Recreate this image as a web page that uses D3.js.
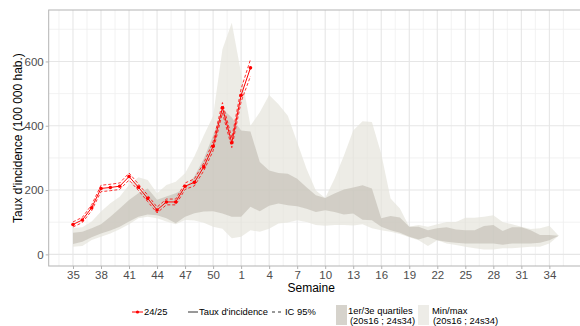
<!DOCTYPE html>
<html><head><meta charset="utf-8">
<script src="https://cdn.jsdelivr.net/npm/d3@7"></script>
<style>body{margin:0;background:#fff}svg{display:block;font-family:"Liberation Sans",Arial,sans-serif}</style>
</head><body><svg id="c" width="580" height="326"></svg>
<script>
// Weeks (season order, week 35 -> week 35)
const weeks = [35,36,37,38,39,40,41,42,43,44,45,46,47,48,49,50,51,52,1,2,3,4,5,6,7,8,9,10,11,12,13,14,15,16,17,18,19,20,21,22,23,24,25,26,27,28,29,30,31,32,33,34,35];
const tickLabels = ["35","38","41","44","47","50","1","4","7","10","13","16","19","22","25","28","31","34"];
const yTicks = [0,200,400,600];
// Historical min / max (20s16 ; 24s34)
const minVals = [24,26,45,55,65,78,94,112,117,112,102,94,107,105,98,86,80,50,55,75,70,80,96,99,106,101,91,89,91,91,90,94,81,75,70,63,53,44,26,44,34,29,24,19,15,15,19,19,21,24,24,34,58];
const maxVals = [82,84,102,133,159,179,216,240,231,190,216,226,252,305,370,430,638,720,563,400,442,496,467,431,349,266,199,175,235,307,385,414,412,313,174,143,86,91,86,94,101,101,114,114,117,122,101,94,86,79,81,89,58];
// 1st / 3rd quartiles
const q1Vals = [32,39,53,65,74,86,102,117,124,122,112,97,117,128,133,134,127,117,117,148,134,151,158,153,150,142,132,137,132,124,127,108,106,86,75,67,55,46,55,44,39,36,34,34,34,34,30,34,34,34,36,44,58];
const q3Vals = [67,70,81,94,117,143,169,190,205,170,180,190,205,243,297,370,452,426,385,382,287,261,253,251,235,209,184,175,189,202,208,215,205,112,119,115,86,86,75,81,84,77,75,75,88,91,73,84,84,75,60,60,58];
// Season 24/25
const rate2425 = [93,107,145,205,208,212,242,209,174,138,163,163,212,224,272,336,456,347,495,580];
const ciLow2425 = [85,99,136,195,198,202,231,199,164,129,154,154,202,213,260,322,440,332,475,554];
const ciHigh2425 = [101,115,154,215,218,222,253,219,184,147,172,172,222,235,284,350,472,362,515,606];

const svg = d3.select("#c");
const L = 48.7, T = 10, B = 266;
const x = d3.scaleLinear().domain([-2.6, 54.6]).range([L, 583]);
const y = d3.scaleLinear().domain([-36.2, 760]).range([B, T]);
const R = x.range()[1];

// panel grid
const g = svg.append("g");
const minorX = d3.range(-1.5, 54.6, 3);
const majorX = d3.range(0, 52, 3);
g.selectAll(".mnx").data(minorX).join("line").attr("x1",d=>x(d)).attr("x2",d=>x(d)).attr("y1",T).attr("y2",B).attr("stroke","#efefef").attr("stroke-width",0.8);
g.selectAll(".mny").data([100,300,500,700]).join("line").attr("x1",L).attr("x2",R).attr("y1",d=>y(d)).attr("y2",d=>y(d)).attr("stroke","#efefef").attr("stroke-width",0.8);
g.selectAll(".mjx").data(majorX).join("line").attr("x1",d=>x(d)).attr("x2",d=>x(d)).attr("y1",T).attr("y2",B).attr("stroke","#e6e6e6").attr("stroke-width",1.1);
g.selectAll(".mjy").data(yTicks).join("line").attr("x1",L).attr("x2",R).attr("y1",d=>y(d)).attr("y2",d=>y(d)).attr("stroke","#e6e6e6").attr("stroke-width",1.1);

// bands
const idx = d3.range(weeks.length);
const areaMM = d3.area().x(i=>x(i)).y0(i=>y(minVals[i])).y1(i=>y(maxVals[i]));
const areaQ = d3.area().x(i=>x(i)).y0(i=>y(q1Vals[i])).y1(i=>y(q3Vals[i]));
svg.append("path").datum(idx).attr("d",areaMM).attr("fill","#e6e4dc").attr("fill-opacity",0.7);
svg.append("path").datum(idx).attr("d",areaQ).attr("fill","#bfbab0").attr("fill-opacity",0.6);

// 24/25 series
const idx2 = d3.range(rate2425.length);
const ln = arr => d3.line().x(i=>x(i)).y(i=>y(arr[i]))(idx2);
svg.append("path").attr("d",ln(ciLow2425)).attr("fill","none").attr("stroke","#ff0000").attr("stroke-width",0.8).attr("stroke-dasharray","3,2");
svg.append("path").attr("d",ln(ciHigh2425)).attr("fill","none").attr("stroke","#ff0000").attr("stroke-width",0.8).attr("stroke-dasharray","3,2");
svg.append("path").attr("d",ln(rate2425)).attr("fill","none").attr("stroke","#ff0000").attr("stroke-width",1);
svg.selectAll(".pt").data(idx2).join("circle").attr("cx",i=>x(i)).attr("cy",i=>y(rate2425[i])).attr("r",1.8).attr("fill","#ff0000");

// panel border
svg.append("rect").attr("x",L).attr("y",T).attr("width",R-L).attr("height",B-T).attr("fill","none").attr("stroke","#b3b3b3").attr("stroke-width",1);

// axes
const xAxis = d3.axisBottom(x).tickValues(majorX).tickFormat((d,i)=>tickLabels[i]).tickSize(3).tickPadding(2);
const ax = svg.append("g").attr("transform",`translate(0,${B})`).call(xAxis);
ax.select(".domain").remove();
ax.selectAll("line").attr("stroke","#b3b3b3");
ax.selectAll("text").attr("fill","#4d4d4d").attr("font-size","11.5px").attr("font-family","Liberation Sans, Arial, sans-serif");
const yAxis = d3.axisLeft(y).tickValues(yTicks).tickSize(3).tickPadding(2);
const ay = svg.append("g").attr("transform",`translate(${L},0)`).call(yAxis);
ay.select(".domain").remove();
ay.selectAll("line").attr("stroke","#b3b3b3");
ay.selectAll("text").attr("fill","#4d4d4d").attr("font-size","11.5px").attr("font-family","Liberation Sans, Arial, sans-serif");

svg.append("text").attr("x",x(25.5)).attr("y",292).attr("text-anchor","middle").attr("font-size","12px").attr("fill","#000").text("Semaine");
svg.append("text").attr("transform","translate(22,138) rotate(-90)").attr("text-anchor","middle").attr("font-size","12px").attr("fill","#000").text("Taux d'incidence (100 000 hab.)");

// legend
const lg = svg.append("g").attr("font-size","9.4px").attr("fill","#000");
lg.append("line").attr("x1",132).attr("x2",143).attr("y1",312).attr("y2",312).attr("stroke","#ff0000").attr("stroke-width",1);
lg.append("circle").attr("cx",137.5).attr("cy",312).attr("r",1.6).attr("fill","#ff0000");
lg.append("text").attr("x",144).attr("y",315.3).text("24/25");
lg.append("line").attr("x1",188).attr("x2",198).attr("y1",312).attr("y2",312).attr("stroke","#333").attr("stroke-width",1);
lg.append("text").attr("x",199).attr("y",315.3).text("Taux d'incidence");
lg.append("line").attr("x1",272).attr("x2",282).attr("y1",312).attr("y2",312).attr("stroke","#333").attr("stroke-width",1).attr("stroke-dasharray","3,3");
lg.append("text").attr("x",285).attr("y",315.3).text("IC 95%");
lg.append("rect").attr("x",336).attr("y",305).attr("width",11).attr("height",20).attr("fill","#d6d3cc");
lg.append("text").attr("x",348).attr("y",313.5).text("1er/3e quartiles");
lg.append("text").attr("x",350).attr("y",324).text("(20s16 ; 24s34)");
lg.append("rect").attr("x",418).attr("y",305).attr("width",11).attr("height",20).attr("fill","#edece7");
lg.append("text").attr("x",432).attr("y",313.5).text("Min/max");
lg.append("text").attr("x",433).attr("y",324).text("(20s16 ; 24s34)");
</script></body></html>
